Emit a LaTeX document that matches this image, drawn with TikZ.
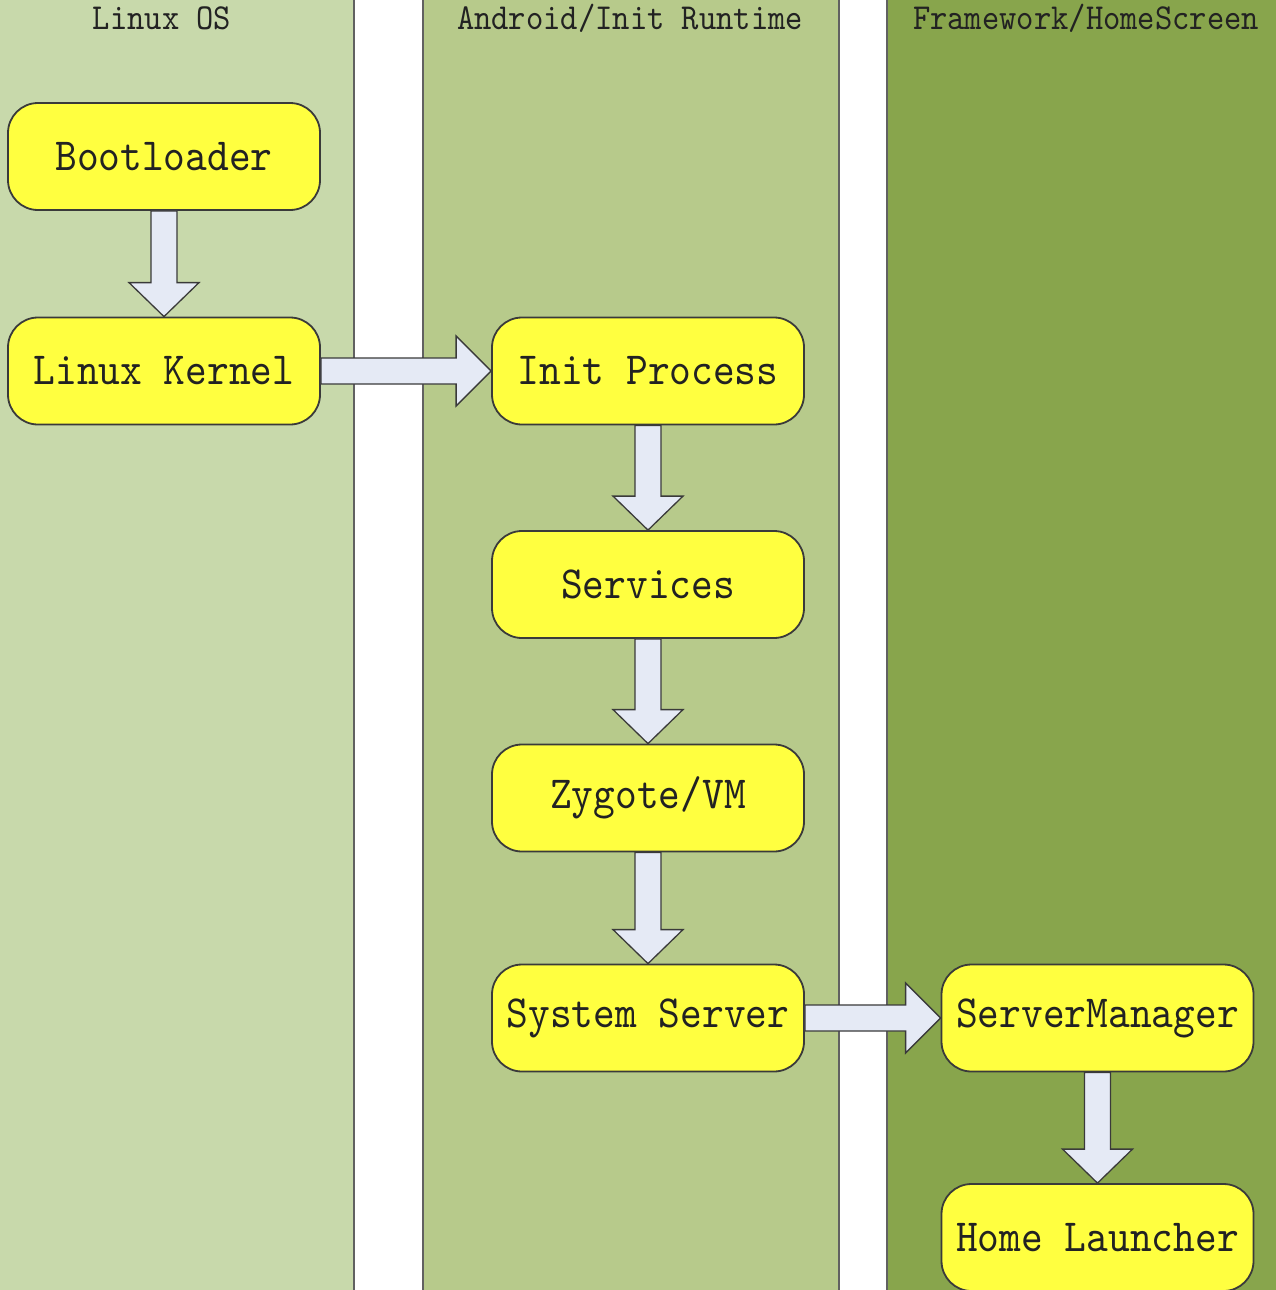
\documentclass[tikz,border=0pt]{standalone}
\usepackage{fontspec}
\newfontfamily\diafont{lmmono10-regular.otf}[FakeStretch=0.9]
\usetikzlibrary{calc}
\definecolor{laneA}{HTML}{C8D9AB}
\definecolor{laneB}{HTML}{B7CA8B}
\definecolor{laneC}{HTML}{88A54C}
\definecolor{boxyellow}{HTML}{FFFF40}
\definecolor{arrowfill}{HTML}{E5EAF5}
\definecolor{edgegray}{HTML}{3A3A3A}
\definecolor{textdark}{HTML}{222222}
\tikzset{
  lane/.style={draw=edgegray!80, line width=1.3pt},
  stagebox/.style={draw=edgegray, line width=1.8pt, fill=boxyellow, rounded corners=30pt,
    minimum width=312pt, minimum height=107pt, inner sep=0pt, text=textdark,
    font=\diafont\fontsize{46}{50}\selectfont},
  lanetitle/.style={anchor=base, text=textdark, inner sep=0pt,
    font=\diafont\fontsize{36.6}{40}\selectfont},
  blockarrow/.style={draw=edgegray, line width=1.3pt, fill=arrowfill, line join=miter},
}
% vertical block arrow from south of #1 to north of #2
\newcommand{\downarrowblock}[2]{%
  \path[blockarrow] let \p1=(#1.south), \p2=(#2.north) in
    (\x1-13pt,\y1) -- (\x1+13pt,\y1) -- (\x1+13pt,\y2+34pt) -- (\x1+35pt,\y2+34pt)
    -- (\x1,\y2) -- (\x1-35pt,\y2+34pt) -- (\x1-13pt,\y2+34pt) -- cycle;}
% horizontal block arrow from east of #1 to west of #2
\newcommand{\rightarrowblock}[2]{%
  \path[blockarrow] let \p1=(#1.east), \p2=(#2.west) in
    (\x1,\y1+13pt) -- (\x2-35pt,\y1+13pt) -- (\x2-35pt,\y1+35pt) -- (\x2,\y1)
    -- (\x2-35pt,\y1-35pt) -- (\x2-35pt,\y1-13pt) -- (\x1,\y1-13pt) -- cycle;}
\begin{document}
\begin{tikzpicture}[x=1pt,y=-1pt]
\useasboundingbox (0,0) rectangle (1276,1290);
% lanes
\fill[white] (0,0) rectangle (1276,1290);
\path[lane, fill=laneA] (-5,-5) rectangle (354,1295);
\path[lane, fill=laneB] (423,-5) rectangle (839,1295);
\path[lane, fill=laneC] (887,-5) rectangle (1281,1295);
% lane titles
\node[lanetitle] (t1) at (162,30) {Linux OS};
\node[lanetitle] (t2) at (630,30) {Android/Init Runtime};
\node[lanetitle] (t3) at (1086,30) {Framework/HomeScreen};
% stages
\node[stagebox] (boot) at (164,156.5) {Bootloader};
\node[stagebox] (kern) at (164,371) {Linux Kernel};
\node[stagebox] (init) at (648,371) {Init Process};
\node[stagebox] (serv) at (648,584.5) {Services};
\node[stagebox] (zyg) at (648,798) {Zygote/VM};
\node[stagebox] (sys) at (648,1018) {System Server};
\node[stagebox] (smgr) at (1097.5,1018) {ServerManager};
\node[stagebox] (home) at (1097.5,1237.5) {Home Launcher};
% connectors
\downarrowblock{boot}{kern}
\rightarrowblock{kern}{init}
\downarrowblock{init}{serv}
\downarrowblock{serv}{zyg}
\downarrowblock{zyg}{sys}
\rightarrowblock{sys}{smgr}
\downarrowblock{smgr}{home}
\end{tikzpicture}
\end{document}
